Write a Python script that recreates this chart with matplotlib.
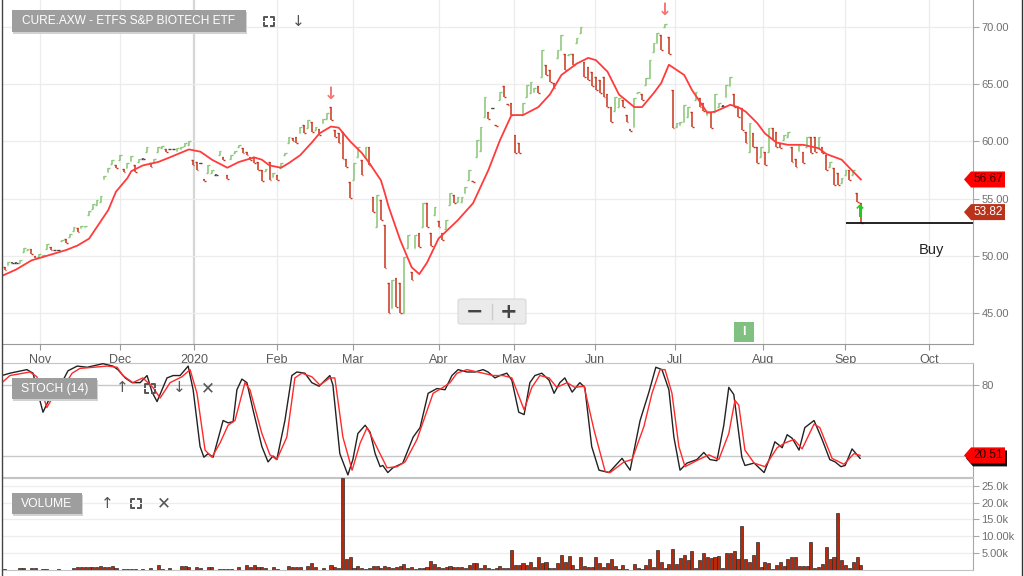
import matplotlib.pyplot as plt
import numpy as np
from matplotlib.patches import Polygon, Rectangle, FancyBboxPatch
from matplotlib.lines import Line2D
from matplotlib.transforms import blended_transform_factory

plt.rcParams['font.family'] = ['Liberation Sans', 'DejaVu Sans']

title = "CURE.AXW - ETFS S&P BIOTECH ETF"

# one bar per trading day, index 0 = mid Oct 2019, last = early Sep 2020
highs = [
    49.0, 49.5, 49.45, 49.45, 49.6, 50.7, 50.6, 50.6, 50.0, 50.2,
    50.1, 51.0, 50.8, 50.55, 50.55, 51.4, 51.5, 51.9, 52.5, 52.4,
    52.6, 52.6, 53.9, 54.5, 54.9, 55.2, 57.0, 57.7, 58.4, 57.9,
    58.8, 57.6, 58.1, 58.7, 57.9, 58.5, 58.55, 59.5, 58.1, 58.5,
    59.5, 59.6, 59.3, 59.35, 59.35, 59.4, 59.5, 59.9, 60.0, 58.4,
    58.2, 58.15, 56.7, 57.9, 57.5, 57.15, 59.2, 58.6, 57.1, 58.8,
    59.2, 59.7, 59.4, 59.1, 58.6, 58.6, 58.2, 57.5, 57.55, 58.2,
    57.2, 57.1, 58.1, 59.0, 60.4, 60.3, 60.4, 61.3, 61.4, 61.9,
    61.7, 61.3, 61.1, 62.0, 62.5, 63.0, 61.0, 60.7, 60.8, 58.5,
    56.45, 58.1, 59.5, 58.4, 59.5, 59.5, 55.1, 55.3, 54.9, 52.7,
    47.6, 47.9, 48.1, 47.6, 49.9, 51.8, 48.6, 51.8, 52.0, 54.6,
    54.6, 52.0, 54.3, 53.0, 52.0, 53.1, 55.5, 55.3, 55.1, 55.1,
    56.0, 57.5, 56.55, 60.1, 61.3, 63.9, 62.6, 62.95, 61.45, 64.3,
    64.8, 63.25, 63.4, 60.6, 59.9, 63.4, 64.9, 65.2, 64.7, 64.8,
    68.0, 66.7, 66.2, 65.1, 68.0, 69.3, 67.6, 67.65, 67.6, 69.0,
    70.0, 66.9, 66.5, 66.1, 65.6, 65.4, 65.6, 64.1, 63.0, 63.9,
    63.8, 63.6, 62.3, 61.05, 63.8, 64.35, 64.1, 65.5, 67.1, 68.6,
    69.5, 69.3, 70.3, 69.1, 64.5, 61.6, 61.7, 63.2, 63.0, 62.6,
    64.3, 63.8, 63.4, 62.7, 62.6, 64.1, 63.4, 63.15, 64.9, 65.6,
    64.1, 63.0, 62.9, 60.8, 61.6, 60.7, 59.5, 59.5, 59.1, 61.2,
    61.2, 60.8, 59.9, 60.6, 60.8, 59.5, 58.5, 59.7, 59.1, 60.4,
    60.4, 60.4, 60.4, 59.5, 58.8, 58.2, 57.7, 57.2, 56.8, 57.5,
    57.5, 57.5, 55.5, 54.6,
]
lows = [
    48.8, 49.2, 49.35, 49.35, 49.4, 50.3, 50.5, 50.2, 49.8, 49.9,
    49.9, 50.6, 50.5, 50.45, 50.45, 51.3, 51.1, 51.6, 52.2, 52.1,
    52.4, 52.5, 53.6, 54.1, 54.4, 54.7, 56.7, 57.3, 58.0, 57.7,
    58.4, 57.3, 57.7, 58.3, 57.3, 58.2, 58.45, 59.1, 57.8, 58.2,
    59.1, 59.4, 59.1, 59.25, 59.25, 59.2, 59.3, 59.6, 59.7, 57.9,
    57.5, 58.05, 56.55, 57.2, 57.2, 57.05, 58.8, 58.4, 56.7, 58.5,
    59.0, 59.5, 59.0, 58.8, 58.4, 58.1, 57.5, 56.5, 57.45, 56.6,
    56.9, 56.6, 57.7, 58.8, 59.9, 60.0, 59.9, 60.7, 60.7, 61.2,
    60.8, 61.0, 60.6, 61.6, 62.0, 61.9, 60.4, 59.9, 58.5, 57.8,
    55.05, 56.6, 58.6, 57.1, 58.6, 57.9, 53.8, 52.5, 53.1, 48.9,
    45.0, 45.4, 45.5, 45.0, 45.0, 50.7, 47.9, 50.7, 50.8, 52.5,
    52.5, 50.9, 53.6, 52.5, 51.4, 52.3, 54.4, 54.6, 54.7, 54.7,
    55.5, 56.6, 56.45, 58.6, 59.2, 62.1, 62.0, 62.85, 61.35, 63.6,
    63.9, 63.15, 62.3, 59.0, 59.0, 62.3, 63.9, 64.2, 64.3, 64.2,
    65.6, 65.8, 65.2, 64.7, 67.3, 68.0, 66.2, 67.55, 66.7, 68.6,
    69.5, 65.6, 65.4, 64.8, 64.5, 64.2, 63.9, 63.0, 61.7, 62.7,
    63.0, 63.0, 61.7, 60.95, 61.3, 64.25, 63.6, 64.9, 65.5, 67.8,
    68.6, 68.0, 70.0, 67.6, 61.2, 61.3, 61.4, 61.7, 62.1, 61.3,
    63.6, 63.0, 62.7, 62.3, 61.2, 62.6, 63.0, 63.05, 63.9, 64.8,
    63.0, 62.1, 61.0, 59.9, 59.1, 59.5, 58.1, 58.6, 57.9, 59.1,
    60.1, 59.5, 59.4, 60.1, 60.4, 58.2, 57.8, 59.2, 58.1, 59.5,
    59.0, 59.1, 59.4, 59.0, 57.5, 57.8, 56.2, 56.2, 56.4, 57.1,
    56.6, 57.1, 54.7, 52.9,
]
# g = up day, r = down day, k = unchanged
moves = ("rgkkgggrrg" "ggrkkgrggr" "gggggggggr" "grggrgkgrg" "ggrkkggggr"
         "rkrggkgrrg" "ggrrrrrrgr" "grgggrrgrg" "rgrggrrrrr" "rggrgrrgrr"
         "rgrrggrgrg" "rrgrrggrgg" "ggrgggrkrg" "rrrrrggggr" "grrrggrgrg"
         "grrrrrrrrg" "grrrggrggg" "grgrrggggr" "grrgrggkgg" "rrrrgrrgrg"
         "rrrggrrgrg" "rrgrrgrrgg" "rgrr")
# volume in thousands
volumes = [
    0.2, 0, 0, 0, 0.4, 0.4, 0, 0.4, 0.4, 0,
    0.3, 0.2, 0, 0, 0.2, 0, 0, 0, 0.6, 0.7,
    0.8, 0.7, 0.9, 0.8, 0.9, 1.0, 0.7, 0.9, 1.1, 0.5,
    0, 0.2, 0.2, 0.2, 0.2, 0, 0.3, 0, 0.5, 0,
    1.4, 0.2, 0, 0.6, 0, 0, 1.2, 1.0, 0.8, 0,
    0.9, 0.4, 0, 0.8, 0.9, 0, 0.3, 0.3, 0.2, 0.3,
    0, 0.7, 0, 1.5, 0.8, 1.4, 0.8, 0.9, 0.4, 0,
    0.8, 0.3, 0, 0, 1.1, 0.7, 0.8, 0.9, 0, 1.2,
    2.0, 0.8, 0, 0.5, 0, 1.5, 0.8, 0.4, 27.3, 3.2,
    3.9, 0.5, 1.1, 0.4, 0.3, 0.5, 1.1, 1.1, 0.6, 1.1,
    0.8, 0.5, 0.8, 1.0, 1.7, 0.4, 0.9, 0.2, 0.5, 0.6,
    0.8, 2.5, 1.7, 0.8, 0.5, 0.7, 1.0, 0.8, 0.8, 0.8,
    0.5, 1.4, 2.1, 2.1, 0.5, 1.4, 0.6, 0.2, 0.5, 1.2,
    0.4, 0.5, 5.8, 1.3, 1.3, 2.0, 1.3, 2.3, 0.8, 3.8,
    2.0, 2.3, 0.6, 0.6, 2.0, 4.3, 2.3, 4.0, 1.5, 0.3,
    3.7, 1.1, 0.8, 0.8, 3.7, 2.0, 0.8, 2.0, 3.1, 1.1,
    0.2, 1.3, 0.2, 0, 1.7, 0.5, 0.2, 1.3, 3.2, 0.8,
    6.0, 2.3, 0.5, 1.6, 6.1, 1.7, 3.6, 4.4, 2.8, 5.7,
    0.6, 2.9, 5.0, 3.7, 3.6, 3.9, 4.2, 0.5, 5.0, 5.0,
    5.5, 3.2, 12.9, 3.3, 2.3, 4.5, 8.2, 0.8, 2.3, 2.0,
    0.2, 1.3, 2.3, 1.2, 3.3, 3.8, 3.8, 1.2, 1.2, 1.2,
    8.2, 0.6, 0.8, 1.7, 6.9, 3.3, 3.8, 16.9, 2.8, 1.3,
    0.6, 2.3, 3.8, 1.4,
]

# moving average line, read at these days
sma_days = [-1, 3, 7, 10, 13, 16, 19, 22, 24, 27, 29, 32, 33, 36, 40, 43, 48, 51, 54, 58,
            61, 65, 67, 69, 72, 74, 77, 80, 82, 85, 87, 90, 93, 95, 98, 99, 100, 103, 106, 108,
            110, 113, 118, 122, 126, 129, 132, 135, 139, 142, 145, 149, 152, 154, 157, 160, 164, 166, 169, 171,
            173, 177, 179, 183, 185, 189, 191, 193, 196, 198, 201, 204, 208, 212, 214, 218, 220, 223]
sma_vals = [48.2, 48.8, 49.6, 49.9, 50.2, 50.5, 50.9, 51.5, 52.5, 54.0, 55.6, 56.8, 57.4, 57.9, 58.2, 58.6, 59.3, 59.1, 58.4, 57.7,
            58.2, 58.6, 58.4, 57.9, 57.7, 58.1, 58.8, 59.9, 60.7, 61.3, 61.2, 60.0, 59.0, 58.1, 56.6, 55.5, 54.3, 51.4, 49.0, 48.4,
            49.4, 51.5, 53.1, 54.6, 57.5, 60.1, 62.3, 62.3, 63.0, 64.1, 65.8, 66.8, 67.3, 67.1, 66.1, 64.1, 63.0, 63.0, 64.2, 65.1,
            66.7, 65.8, 64.5, 62.5, 62.6, 63.2, 63.0, 62.6, 61.6, 60.7, 59.9, 59.7, 59.7, 59.4, 58.9, 58.4, 57.7, 56.67]

# stochastic %K (black) and %D (red)
k_days = [-0.7, 1.4, 5.8, 7.4, 8.7, 10, 11.3, 12.6, 14.9, 16.5, 18.9, 21.5, 25.6, 28.2, 29.5, 31.4,
          33.2, 35.3, 37.1, 38.4, 39.7, 42.3, 43.9, 45.7, 47.8, 49.1, 50.9, 51.9, 53, 54.3, 56.9, 58.2,
          59.5, 60.5, 61.8, 63.1, 64.7, 67, 68.6, 69.9, 70.9, 73, 74.8, 76.1, 78.2, 80, 81.9, 84.7,
          85.5, 87.3, 89.4, 90.7, 92, 93.9, 95.2, 96.5, 97.8, 98.5, 99.8, 101.1, 103.7, 106.4, 108.2, 110.3,
          112.6, 114.7, 116.5, 118.1, 120.4, 122.5, 124.6, 125.9, 127.7, 129, 130.8, 132.1, 133.9, 135.3, 136.8, 138.1,
          139.9, 141.8, 143.1, 144.6, 145.9, 147.8, 149.8, 151.1, 152.9, 154.8, 157.4, 160.8, 162.9, 165.5, 167.8, 169.6,
          171.2, 173, 174.3, 175.9, 177.7, 180.3, 182.1, 183.7, 185.5, 187.3, 188.6, 189.9, 192, 192.8, 195.2, 197.8,
          199.1, 200.6, 202.5, 203.8, 205.1, 206.9, 208.4, 210.8, 212.9, 214.9, 216.3, 217.8, 218.9, 220.7, 221.5, 222.8]
k_vals = [88, 90, 93, 90, 73, 57, 66, 73, 82, 92, 96, 95, 98, 96, 93, 86,
          82, 82, 88, 74, 66, 86, 88, 88, 96, 76, 28, 19, 22, 19, 50, 48,
          49, 76, 85, 82, 59, 28, 15, 20, 17, 50, 88, 91, 90, 82, 79, 88,
          80, 22, 4, 17, 39, 46, 40, 22, 11, 12, 6, 10, 14, 36, 44, 73,
          77, 76, 88, 93, 91, 91, 93, 91, 86, 88, 90, 84, 57, 55, 82, 88,
          90, 84, 73, 82, 86, 74, 82, 78, 28, 8, 6, 18, 8, 50, 74, 95,
          93, 76, 36, 8, 14, 17, 23, 17, 16, 46, 78, 72, 19, 12, 14, 6,
          17, 32, 27, 38, 35, 25, 44, 50, 34, 17, 15, 11, 12, 26, 23, 18]
d_days = [-0.7, 1.4, 6.6, 8.4, 11, 12.6, 15.2, 17.6, 19.6, 26.7, 29.3, 30.8, 33.4, 36, 38.6, 40.5,
          43.1, 46.2, 48.3, 50.1, 52.2, 54, 56.1, 58.2, 60, 62.6, 63.9, 67, 69.1, 70.9, 73.5, 75.6,
          77.4, 80, 82.1, 84.7, 86, 88.1, 90.5, 92.6, 94.4, 97, 99.6, 102.2, 104.3, 107.4, 111.6, 114.2,
          116, 117.8, 120.4, 124.6, 127.2, 129.8, 132.1, 135.3, 137.3, 139.4, 141.8, 143.8, 146.5, 148.5, 150.9, 153.5,
          156.4, 157.7, 161.3, 163.4, 166.5, 168.6, 170.7, 172, 173.8, 175.6, 177.2, 180.8, 183.4, 186, 188.6, 190.2,
          191.2, 192.8, 195.2, 198, 201.2, 203.2, 205.6, 207.7, 210.8, 212.3, 215.5, 218.6, 221.2, 222.8]
d_vals = [82, 88, 91, 87, 61, 70, 78, 90, 94, 96, 95, 88, 82, 86, 78, 69,
          82, 87, 93, 73, 25, 19, 31, 46, 50, 82, 76, 39, 21, 17, 36, 86,
          90, 87, 80, 86, 86, 36, 8, 31, 44, 27, 10, 11, 15, 34, 73, 78,
          82, 90, 93, 90, 88, 88, 86, 59, 78, 88, 86, 78, 82, 78, 79, 42,
          7, 6, 15, 17, 45, 73, 93, 93, 73, 28, 11, 17, 21, 17, 39, 67,
          63, 25, 14, 11, 27, 31, 34, 26, 47, 44, 18, 13, 22, 20.51]

month_labels = ['Nov', 'Dec', '2020', 'Feb', 'Mar', 'Apr', 'May', 'Jun', 'Jul', 'Aug', 'Sep', 'Oct']
month_days = [9.2, 30.1, 49.3, 70.9, 90.7, 113.1, 132.7, 153.8, 174.6, 197.5, 218.9, 240.7]

last_close = 53.82
buy_level = 52.87
buy_start = 219
sell_signals = [85, 172]
event_day = 192.6

W, H = 1024, 576
fig = plt.figure(figsize=(W / 100, H / 100), dpi=100)


def fx(px):
    return px / W


def fy(py):
    return 1 - py / H


def panel(top, bottom):
    return fig.add_axes([fx(2), fy(bottom), fx(973) - fx(2), (bottom - top) / H])


ax1 = panel(0, 344)
ax2 = panel(363, 477)
ax3 = panel(478, 570)
xlim = (-0.68, 252.2)

for ax in (ax1, ax2, ax3):
    ax.set_xlim(*xlim)
    ax.yaxis.tick_right()
    ax.spines['left'].set_visible(False)
    ax.spines['top'].set_color('#c4c4c4')
    ax.spines['bottom'].set_color('#c4c4c4')
    ax.spines['right'].set_color('#a8a8a8')
    ax.tick_params(axis='y', direction='out', length=4, width=0.8, colors='#a8a8a8',
                   labelsize=8, labelcolor='#707070', pad=2)
ax1.spines['top'].set_visible(False)
ax1.spines['bottom'].set_color('#9a9a9a')

# ---- price panel ----
ax1.set_ylim(42.29, 72.36)
ax1.set_yticks([45, 50, 55, 60, 65, 70])
ax1.set_yticklabels([f"{v:.2f}" for v in [45, 50, 55, 60, 65, 70]])
ax1.set_xticks(month_days)
ax1.set_xticklabels(month_labels)
ax1.tick_params(axis='x', direction='out', length=4, width=0.8, colors='#9a9a9a',
                labelsize=9, labelcolor='#5a5a5a', pad=3)
for d, lab in zip(month_days, month_labels):
    if lab == '2020':
        ax1.axvline(d, color='#d6d6d6', lw=1.6, zorder=0)
    else:
        ax1.axvline(d, color='#ececec', lw=0.9, zorder=0)
for v in [45, 50, 55, 60, 65, 70]:
    ax1.axhline(v, color='#ececec', lw=0.9, zorder=0)

x = np.arange(len(highs))
hi = np.array(highs)
lo = np.array(lows)
up = np.array([m == 'g' for m in moves])
flat = np.array([m == 'k' for m in moves])
palette = {'g': '#86c674', 'r': '#c8341b', 'k': '#444444'}
cols = [palette[m] for m in moves]
opens = np.where(up, lo, hi)
closes = np.where(up, hi, lo)
mid = (hi + lo) / 2
opens[flat] = mid[flat]
closes[flat] = mid[flat]
ax1.vlines(x, lo, hi, colors=cols, lw=1.1, zorder=3)
ax1.hlines(opens, x - 0.45, x, colors=cols, lw=1.0, zorder=3)
ax1.hlines(closes, x, x + 0.45, colors=cols, lw=1.0, zorder=3)

ax1.plot(sma_days, sma_vals, color='#ff3b3b', lw=1.3, zorder=4)

for d in sell_signals:
    ax1.annotate('↓', (d, hi[d]), xytext=(0, 3), textcoords='offset points', ha='center', va='bottom',
                 color='#f27878', fontsize=12, fontweight='bold', family='DejaVu Sans', zorder=5)
ax1.annotate('↑', (len(highs) - 1.4, lo[-1]), xytext=(0, 1), textcoords='offset points', ha='center',
             va='bottom', color='#22cc22', fontsize=12, fontweight='bold', family='DejaVu Sans', zorder=5)
ax1.hlines(buy_level, buy_start, xlim[1], color='#111111', lw=1.3, zorder=5)
ax1.text(241.3, 50.5, 'Buy', fontsize=10.5, color='#222222', ha='center', va='center')

trans = blended_transform_factory(ax1.transData, ax1.transAxes)
ax1.add_patch(Rectangle((event_day - 2.6, 0.006), 5.2, 0.058, transform=trans,
                        fc='#80c080', ec='none', zorder=5, clip_on=False))
ax1.text(event_day, 0.035, 'I', transform=trans, color='white', fontsize=9, fontweight='bold',
         ha='center', va='center', zorder=6)

# ---- stochastic panel ----
ax2.set_ylim(2.25, 98.6)
ax2.set_xticks([])
ax2.set_yticks([20, 80])
ax2.set_yticklabels(['', '80'])
ax2.axhline(80, color='#c8c8c8', lw=1.0, zorder=0)
ax2.axhline(20, color='#c8c8c8', lw=1.0, zorder=0)
ax2.plot(k_days, k_vals, color='#222222', lw=1.0, zorder=3)
ax2.plot(d_days, d_vals, color='#ff2a2a', lw=1.0, zorder=4)

# ---- volume panel ----
vol = np.array(volumes)
ax3.set_ylim(-0.06, 27.32)
ax3.set_xticks([])
ax3.set_yticks([5, 10, 15, 20, 25])
ax3.set_yticklabels(['5.00k', '10.00k', '15.0k', '20.0k', '25.0k'])
for v in [5, 10, 15, 20, 25]:
    ax3.axhline(v, color='#eeeeee', lw=0.9, zorder=0)
m = vol > 0
ax3.bar(x[m], vol[m], width=0.8, color='#b8290c', edgecolor='#2a2a2a', lw=0.5, zorder=3)


# ---- price tags on the right ----
def tag(ax, value, text, fc, tc, shadow=False):
    py = H - ax.transData.transform((0, value))[1]
    pts = [(964, py), (971, py - 8), (1005, py - 8), (1005, py + 8), (971, py + 8)]
    if shadow:
        fig.add_artist(Polygon([(fx(a + 2), fy(b + 3)) for a, b in pts], closed=True,
                               transform=fig.transFigure, fc='#111111', ec='none', zorder=6))
    fig.add_artist(Polygon([(fx(a), fy(b)) for a, b in pts], closed=True,
                           transform=fig.transFigure, fc=fc, ec='none', zorder=7))
    fig.text(fx(988), fy(py), text, color=tc, fontsize=8.5, ha='center', va='center', zorder=8)


tag(ax1, sma_vals[-1], f"{sma_vals[-1]:.2f}", '#ff0000', '#3a0000')
tag(ax1, last_close, f"{last_close:.2f}", '#b9321a', 'white')
tag(ax2, d_vals[-1], f"{d_vals[-1]:.2f}", '#ff0000', '#1a0000', shadow=True)


# ---- panel chrome ----
def label_box(x0, y0, x1, y1, text, size):
    fig.add_artist(Rectangle((fx(x0 + 1), fy(y1 + 2)), (x1 - x0) / W, (y1 - y0) / H,
                             transform=fig.transFigure, fc='#d2d2d2', ec='none', zorder=5))
    fig.add_artist(Rectangle((fx(x0), fy(y1)), (x1 - x0) / W, (y1 - y0) / H,
                             transform=fig.transFigure, fc='#9e9e9e', ec='none', zorder=6))
    fig.text(fx((x0 + x1) / 2), fy((y0 + y1) / 2 + 0.5), text, color='white', fontsize=size,
             ha='center', va='center', zorder=7)


def glyph(px, py, ch, size=11):
    fig.text(fx(px), fy(py), ch, color='#555555', fontsize=size, ha='center', va='center',
             family='DejaVu Sans', zorder=7)


def corners(cx, cy, w=10, h=9, arm=3):
    for sx in (-1, 1):
        for sy in (-1, 1):
            x0, y0 = cx + sx * w / 2, cy + sy * h / 2
            fig.add_artist(Line2D([fx(x0 - sx * arm), fx(x0), fx(x0)],
                                  [fy(y0), fy(y0), fy(y0 - sy * arm)],
                                  transform=fig.transFigure, color='#555555', lw=1.4, zorder=7))


label_box(12, 10, 246, 32, title, 8.6)
corners(269, 21)
glyph(298, 21, '↓')

label_box(12, 378, 97, 399, 'STOCH (14)', 8.7)
glyph(122, 388, '↑')
corners(150, 388)
glyph(179, 388, '↓')
glyph(208, 388, '✕', 12)

label_box(12, 493, 82, 514, 'VOLUME', 8.7)
glyph(107, 503, '↑')
corners(136, 503)
glyph(164, 503, '✕', 12)

# zoom widget
fig.add_artist(FancyBboxPatch((fx(458), fy(324)), 68 / W, 25 / H, boxstyle='round,pad=0,rounding_size=0.003',
                              transform=fig.transFigure, fc='#ebebeb', ec='#d9d9d9', lw=0.8, zorder=6))
fig.add_artist(Line2D([fx(492), fx(492)], [fy(304), fy(319)], transform=fig.transFigure,
                      color='#cccccc', lw=1, zorder=7))
fig.text(fx(475), fy(312), '−', color='#444444', fontsize=15, fontweight='bold', ha='center',
         va='center', family='DejaVu Sans', zorder=7)
fig.text(fx(509), fy(312), '+', color='#444444', fontsize=15, fontweight='bold', ha='center',
         va='center', family='DejaVu Sans', zorder=7)

# outer frame lines
fig.add_artist(Line2D([fx(1.5), fx(1.5)], [0, 1], transform=fig.transFigure, color='#444444', lw=1))
fig.add_artist(Line2D([fx(1022), fx(1022)], [0, 1], transform=fig.transFigure, color='#333333', lw=1))

fig.savefig('out.png', dpi=100, facecolor='white')
